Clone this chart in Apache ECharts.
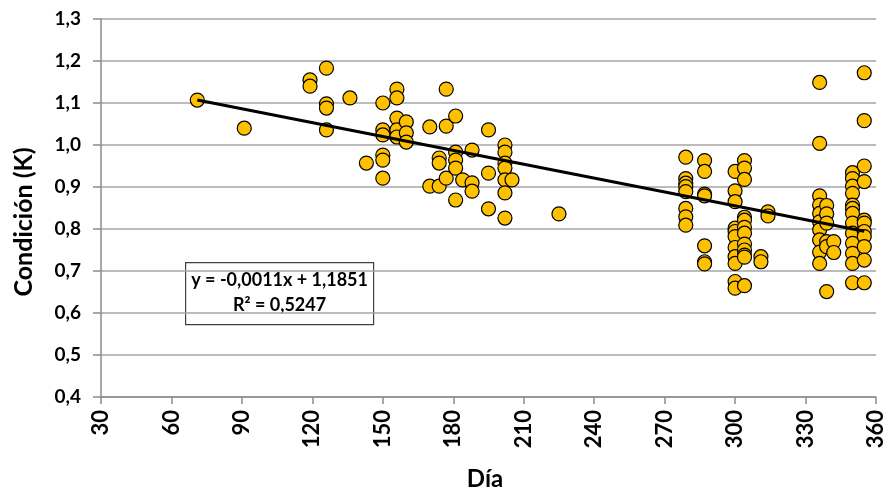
<!DOCTYPE html>
<html><head><meta charset="utf-8">
<script src="https://cdn.jsdelivr.net/npm/echarts@6/dist/echarts.min.js"></script>
<style>html,body{margin:0;padding:0;background:#fff}#c{width:891px;height:496px}</style>
</head><body><div id="c"></div>
<script>
const days = [71,91,119,119,126,126,126,126,136,143,150,150,150,150,150,150,156,156,156,156,156,160,160,160,170,170,174,174,174,177,177,177,181,181,181,181,181,184,188,188,188,195,195,195,202,202,202,202,202,202,202,205,225,
279,279,279,279,279,279,279,279,
287,287,287,287,287,287,287,
300,300,300,300,300,300,300,300,300,300,300,
304,304,304,304,304,304,304,304,304,304,304,304,
311,311,314,314,
336,336,336,336,336,336,336,336,336,336,
339,339,339,339,339,339,
342,342,
350,350,350,350,350,350,350,350,350,350,350,350,350,
355,355,355,355,355,355,355,355,355,355,355];
const condicion = [1.107,1.040,1.155,1.140,1.183,1.098,1.088,1.036,1.112,0.957,1.100,1.036,1.024,0.976,0.964,0.921,1.133,1.112,1.064,1.036,1.019,1.055,1.029,1.007,1.043,0.902,0.969,0.957,0.902,1.133,1.045,0.921,1.069,0.983,0.964,0.945,0.869,0.917,0.988,0.910,0.890,1.036,0.933,0.848,1.000,0.983,0.957,0.945,0.917,0.886,0.826,0.917,0.836,
0.971,0.920,0.909,0.901,0.889,0.849,0.829,0.809,
0.963,0.937,0.883,0.879,0.760,0.722,0.717,
0.937,0.891,0.865,0.802,0.794,0.782,0.756,0.734,0.718,0.675,0.659,
0.963,0.945,0.918,0.828,0.821,0.804,0.790,0.764,0.750,0.738,0.733,0.665,
0.734,0.722,0.841,0.831,
1.149,1.004,0.879,0.857,0.837,0.817,0.798,0.774,0.745,0.718,
0.856,0.836,0.814,0.770,0.758,0.651,
0.770,0.744,
0.934,0.920,0.902,0.885,0.857,0.849,0.837,0.814,0.790,0.766,0.742,0.718,0.672,
1.172,1.058,0.950,0.913,0.821,0.814,0.794,0.782,0.758,0.726,0.672];
const slope = -0.0011;
const intercept = 1.1851;
const r2 = 0.5247;
const trendRange = [71, 355];
const xTicks = [30,60,90,120,150,180,210,240,270,300,330,360];
const yTicks = [0.4,0.5,0.6,0.7,0.8,0.9,1.0,1.1,1.2,1.3];
const xTitle = 'Día';
const yTitle = 'Condición (K)';

const pts = days.map((d,i)=>[d,condicion[i]]);
const trend = trendRange.map(x=>[x, slope*x+intercept]);
const fmt = (v,n)=>v.toFixed(n).replace('.',',');
const F = 'Lato, "Open Sans", sans-serif';
const FN = '"Liberation Sans Narrow", Lato, sans-serif';
const chart = echarts.init(document.getElementById('c'));
chart.setOption({
  animation:false,
  grid:{left:101,right:15,top:19,bottom:99},
  xAxis:{type:'value',min:30,max:360,interval:30,
    axisLine:{lineStyle:{color:'#8c8c8c',width:1.5}},
    axisTick:{show:true,length:7,lineStyle:{color:'#8c8c8c',width:1.5}},
    splitLine:{show:false},
    axisLabel:{rotate:90,fontFamily:FN,fontWeight:'bold',fontSize:22,color:'#000',margin:13,
      formatter:v=>xTicks.includes(v)?String(v):''}},
  yAxis:{type:'value',min:0.4,max:1.3,interval:0.1,
    axisLine:{show:true,lineStyle:{color:'#8c8c8c',width:1.5}},
    axisTick:{show:true,length:8,lineStyle:{color:'#8c8c8c',width:1.5}},
    splitLine:{lineStyle:{color:'#a6a6a6',width:1.5}},
    axisLabel:{fontFamily:F,fontWeight:'bold',fontSize:19,color:'#000',margin:20,
      formatter:v=>fmt(v,1)}},
  series:[
    {type:'scatter',data:pts,symbol:'circle',symbolSize:14,
      itemStyle:{color:'#FFC000',borderColor:'#000',borderWidth:1.2,opacity:1},z:2},
    {type:'line',data:trend,symbol:'none',lineStyle:{color:'#000',width:3},z:3,silent:true}
  ],
  graphic:[
    {type:'text',x:24,y:222,rotation:Math.PI/2,style:{text:yTitle,align:'center',verticalAlign:'middle',
      font:'bold 25px '+F,fill:'#000'}},
    {type:'text',x:485,y:479,style:{text:xTitle,align:'center',verticalAlign:'middle',
      font:'bold 24px '+F,fill:'#000'}},
    {type:'group',left:185,top:262,children:[
    {type:'rect',shape:{x:0,y:0,width:188,height:62},style:{fill:'#fff',stroke:'#404040',lineWidth:1.2}},
    {type:'text',style:{x:94,y:18,text:'y = '+fmt(slope,4)+'x + '+fmt(intercept,4),align:'center',verticalAlign:'middle',
      font:'bold 18px '+F,fill:'#000'}},
    {type:'text',style:{x:94,y:43,text:'R² = '+fmt(r2,4),align:'center',verticalAlign:'middle',
      font:'bold 18px '+F,fill:'#000'}}
  ]}]
});
</script></body></html>
